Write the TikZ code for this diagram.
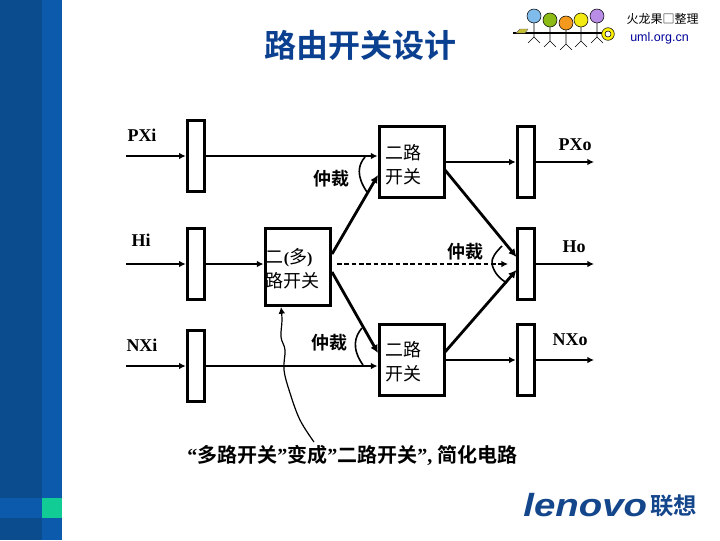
\documentclass[tikz,border=0pt]{standalone}
\usepackage{fontspec}
\setmainfont{Liberation Serif}
\newfontfamily\cjk{Noto Sans CJK SC}[BoldFont={Noto Sans CJK SC Bold}]
\newfontfamily\lat{Liberation Sans}
\usetikzlibrary{arrows.meta}
\definecolor{banddark}{HTML}{0A4C8E}
\definecolor{bandlight}{HTML}{0B5AAC}
\definecolor{teal}{HTML}{12CC96}
\definecolor{lenblue}{HTML}{14468C}
\definecolor{titleblue}{HTML}{0B3F90}
\tikzset{
 x=0.75pt,y=-0.75pt,
 box/.style={draw=black,line width=2.25pt,fill=white,inner sep=0pt,anchor=north west},
 reg/.style={box,minimum width=12.75pt,minimum height=53.25pt},
 swi/.style={box,minimum width=48.75pt,minimum height=53.25pt},
 wire/.style={line width=1.5pt,-{Latex[length=5pt,width=5pt]}},
 thick wire/.style={line width=2.1pt,-{Latex[length=6pt,width=6pt]}},
 arc line/.style={line width=1.2pt},
 lbl/.style={font=\bfseries\fontsize{13.5}{15}\selectfont,inner sep=0pt},
 cjkl/.style={font=\cjk\bfseries\fontsize{13.5}{20}\selectfont,inner sep=0pt},
 swl/.style={font=\cjk\fontsize{13.5}{18}\selectfont,inner sep=0pt,align=left,anchor=west},
 stick/.style={line width=0.5pt,black},
}
\begin{document}
\begin{tikzpicture}
\useasboundingbox (0,0) rectangle (720,540);
\fill[white] (0,0) rectangle (720,540);
% side band
\fill[banddark] (0,0) rectangle (42,540);
\fill[bandlight] (42,0) rectangle (62,540);
\fill[bandlight] (0,498) rectangle (42,518);
\fill[teal] (42,498) rectangle (62,518);
% title
\node[font=\cjk\bfseries\fontsize{24}{26}\selectfont,text=titleblue,inner sep=0pt] (title) at (360,45) {路由开关设计};
% registers
\node[reg] (ri1) at (185.7,119.3) {};
\node[reg] (ri2) at (185.7,227.3) {};
\node[reg] (ri3) at (185.7,329.3) {};
\node[reg] (ro1) at (515.7,125.3) {};
\node[reg] (ro2) at (515.7,227.3) {};
\node[reg] (ro3) at (515.7,323.3) {};
% switches
\node[swi] (s1) at (377.5,125.3) {};
\node[swi,minimum height=57.75pt] (s2) at (263.5,227.3) {};
\node[swi] (s3) at (377.5,323.3) {};
\node[swl] (s1t) at (385,165) {二路\\开关};
\node[swl] (s2t) at (265.5,268.5) {二{\fontsize{12}{12}\selectfont\rmfamily\bfseries(}多{\fontsize{12}{12}\selectfont\rmfamily\bfseries)}\\路开关};
\node[swl] (s3t) at (385,362) {二路\\开关};
% free ends
\coordinate (a1) at (126,156); \coordinate (a2) at (126,264); \coordinate (a3) at (126,366);
\coordinate (b1) at (594,162); \coordinate (b2) at (594,264); \coordinate (b3) at (594,360);
% input wires
\draw[wire] (a1) -- (a1 -| ri1.west);
\draw[wire] (ri1.east |- a1) -- (a1 -| s1.west);
\draw[wire] (a2) -- (a2 -| ri2.west);
\draw[wire] (ri2.east |- a2) -- (a2 -| s2.west);
\draw[wire] (a3) -- (a3 -| ri3.west);
\draw[wire] (ri3.east |- a3) -- (a3 -| s3.west);
% output wires
\draw[wire] (s1.east |- b1) -- (b1 -| ro1.west);
\draw[wire] (ro1.east |- b1) -- (b1);
\draw[wire] (ro2.east |- b2) -- (b2);
\draw[wire] (s3.east |- b3) -- (b3 -| ro3.west);
\draw[wire] (ro3.east |- b3) -- (b3);
% diagonals
\coordinate (d1) at (332,254); \coordinate (d2) at (378,175);
\coordinate (d3) at (332,272); \coordinate (d4) at (378,353);
\coordinate (d5) at (445,170); \coordinate (d6) at (516.5,257);
\coordinate (d7) at (445,352); \coordinate (d8) at (516.5,270);
\draw[thick wire] (d1) -- (d2);
\draw[thick wire] (d3) -- (d4);
\draw[thick wire] (d5) -- (d6);
\draw[thick wire] (d7) -- (d8);
% dashed
\coordinate (dash0) at (337,264); \coordinate (dash1) at (508,264);
\draw[line width=1.3pt,dash pattern=on 3.5pt off 2pt,-{Latex[length=5pt,width=5pt]}] (dash0) -- (dash1);
% arbitration arcs
\coordinate (c1a) at (365,157); \coordinate (c1b) at (367,192);
\draw[arc line] (c1a) .. controls (358,165) and (356,176) .. (c1b);
\coordinate (c2a) at (502,246); \coordinate (c2b) at (507,283);
\draw[arc line] (c2a) .. controls (496,252) and (491,258) .. (492,264) .. controls (494,273) and (500,279) .. (c2b);
\coordinate (c3a) at (362,328); \coordinate (c3b) at (363,365);
\draw[arc line] (c3a) .. controls (355,336) and (351,348) .. (c3b);
\node[cjkl] (ar1) at (331,179) {仲裁};
\node[cjkl] (ar2) at (465,252) {仲裁};
\node[cjkl] (ar3) at (329,343) {仲裁};
% labels
\node[lbl] (pxi) at (142,135) {PXi};
\node[lbl] (hi) at (141,240) {Hi};
\node[lbl] (nxi) at (142,345) {NXi};
\node[lbl] (pxo) at (575,145) {PXo};
\node[lbl] (ho) at (574,247) {Ho};
\node[lbl] (nxo) at (570,340) {NXo};
% note
\node[font=\cjk\bfseries\fontsize{15}{18}\selectfont,inner sep=0pt,anchor=west] (note) at (187,455) {{\rmfamily “}多路开关{\rmfamily ”}变成{\rmfamily ”}二路开关{\rmfamily ”, }简化电路};
\draw[line width=0.9pt,-{Latex[length=5pt,width=5pt]}] plot[smooth,tension=.6] coordinates {(314,442) (300,420) (290,393) (284,370) (285,350) (281,337) (282,320) (281,307)};
% uml logo
\draw[line width=1pt,black] (513,33) -- (604,33);
\fill[yellow!75!black,draw=black!60,line width=.3pt] (516,33) -- (520,29) -- (528,29) -- (525,33) -- cycle;
\foreach \n/\x/\y/\c in {p1/534/16/7FBCEB,p2/550/20/8DBB16,p3/566/23/F39A1E,p4/581/20/F2EA10,p5/597/16/B98CE6}{
  \definecolor{hc}{HTML}{\c}
  \draw[stick] (\x,\y) -- (\x,\y+21) (\x,\y+21) -- (\x-6,\y+27) (\x,\y+21) -- (\x+6,\y+27);
  \fill[hc,draw=black,line width=.4pt] (\x,\y) circle (7);
}
\draw[black,line width=.4pt,fill=yellow] (608,34) circle (6.3);
\draw[black,line width=.4pt,fill=white] (608,34) circle (3);
\node[font=\cjk\fontsize{9}{10}\selectfont,inner sep=0pt] (zl) at (662.5,19) {火龙果□整理};
\node[font=\lat\fontsize{9.4}{10}\selectfont,text=blue!60!black,inner sep=0pt] (uml) at (659.5,38) {uml.org.cn};
% lenovo logo
\node[font=\lat\bfseries\itshape\fontsize{24}{26}\selectfont,text=lenblue,inner sep=0pt,anchor=west,xscale=1.2,transform shape] (len) at (523,505) {lenovo};
\node[font=\cjk\bfseries\fontsize{17.5}{19}\selectfont,text=lenblue,inner sep=0pt,anchor=west] (lx) at (650,506) {联想};
\end{tikzpicture}
\end{document}
